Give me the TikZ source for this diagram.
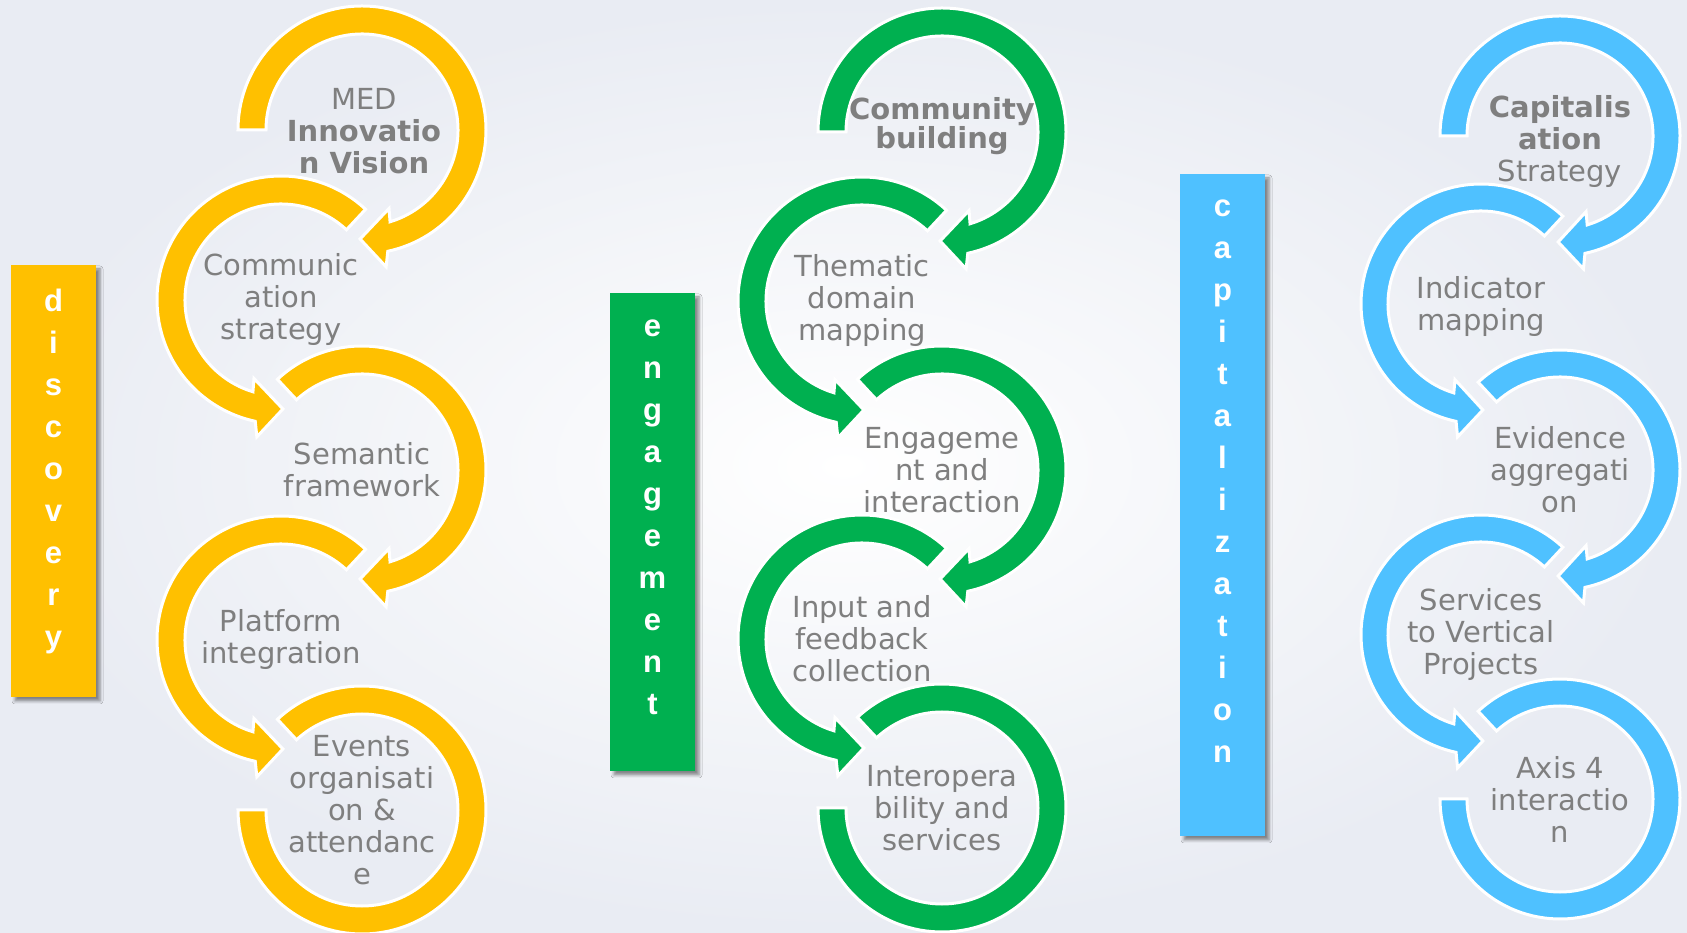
\documentclass[tikz,border=0pt]{standalone}
\usepackage{fontspec}
\setmainfont{DejaVu Sans}
\newfontfamily\barfont{Liberation Sans}
\usetikzlibrary{shadows.blur}

\definecolor{discyellow}{RGB}{255,192,0}
\definecolor{enggreen}{RGB}{0,176,80}
\definecolor{capblue}{RGB}{79,193,255}
\definecolor{labelgray}{RGB}{127,127,127}
\definecolor{bgedge}{RGB}{233,236,243}

\tikzset{
  ring/.style={draw=white, line width=3, line join=miter},
  steptext/.style={text=labelgray, align=center, inner sep=0, font=\fontsize{29}{32}\selectfont},
  phasebar/.style={minimum width=85, minimum height=#1, inner sep=0,
    blur shadow={shadow xshift=4pt, shadow yshift=-4pt, shadow blur radius=3pt, shadow opacity=45}},
  barletters/.style={text=white, align=center, anchor=north, inner sep=0,
    font=\barfont\fontsize{31}{42}\selectfont\bfseries},
}

\begin{document}
\begin{tikzpicture}[x=1pt,y=1pt]
    \useasboundingbox (0,0) rectangle (1687,932);
    \shade[inner color=white, outer color=bgedge] (0,0) rectangle (1687,932);

    % phase bars
    \node[phasebar=432, fill=discyellow] (discovery) at (53.5,451) {};
    \node[barletters] (discword) at ([yshift=-24]discovery.north) {d\\i\\s\\c\\o\\v\\e\\r\\y};

    \node[phasebar=478, fill=enggreen] (engagement) at (652.5,400) {};
    \node[barletters] (engword) at ([yshift=-27]engagement.north) {e\\n\\g\\a\\g\\e\\m\\e\\n\\t};

    \node[phasebar=662, fill=capblue] (capitalization) at (1222.5,427) {};
    \node[barletters] (capword) at ([yshift=-26]capitalization.north) {c\\a\\p\\i\\t\\a\\l\\i\\z\\a\\t\\i\\o\\n};

    % circle centres
    \coordinate (Y1) at (362,802);
    \coordinate (Y2) at (281,632);
    \coordinate (Y3) at (362,462);
    \coordinate (Y4) at (281,292);
    \coordinate (Y5) at (362,122);

    \coordinate (G1) at (942,800);
    \coordinate (G2) at (862,631);
    \coordinate (G3) at (942,462);
    \coordinate (G4) at (862,293);
    \coordinate (G5) at (942,124);

    \coordinate (B1) at (1560,796);
    \coordinate (B2) at (1481,628);
    \coordinate (B3) at (1560,462);
    \coordinate (B4) at (1481,297);
    \coordinate (B5) at (1560,133);

    % discovery circles
    \filldraw[ring, fill=discyellow, shift={(Y1)}] (180:124) arc[start angle=180, end angle=-78, radius=124]
        -- (-80:139) -- (-91:109) -- (-71:83) -- (-73:96) arc[start angle=-73, end angle=180, radius=96] -- cycle;
    \filldraw[ring, fill=discyellow, shift={(Y2)}] (47:124) arc[start angle=47, end angle=258, radius=124]
        -- (260:139) -- (271:109) -- (251:83) -- (253:96) arc[start angle=253, end angle=47, radius=96] -- cycle;
    \filldraw[ring, fill=discyellow, shift={(Y3)}] (133:124) arc[start angle=133, end angle=-78, radius=124]
        -- (-80:139) -- (-91:109) -- (-71:83) -- (-73:96) arc[start angle=-73, end angle=133, radius=96] -- cycle;
    \filldraw[ring, fill=discyellow, shift={(Y4)}] (47:124) arc[start angle=47, end angle=258, radius=124]
        -- (260:139) -- (271:109) -- (251:83) -- (253:96) arc[start angle=253, end angle=47, radius=96] -- cycle;
    \filldraw[ring, fill=discyellow, shift={(Y5)}] (133:124) arc[start angle=133, end angle=-180, radius=124]
        -- (-180:96) arc[start angle=-180, end angle=133, radius=96] -- cycle;

    % engagement circles
    \filldraw[ring, fill=enggreen, shift={(G1)}] (180:124) arc[start angle=180, end angle=-78, radius=124]
        -- (-80:139) -- (-91:109) -- (-71:83) -- (-73:96) arc[start angle=-73, end angle=180, radius=96] -- cycle;
    \filldraw[ring, fill=enggreen, shift={(G2)}] (47:124) arc[start angle=47, end angle=258, radius=124]
        -- (260:139) -- (271:109) -- (251:83) -- (253:96) arc[start angle=253, end angle=47, radius=96] -- cycle;
    \filldraw[ring, fill=enggreen, shift={(G3)}] (133:124) arc[start angle=133, end angle=-78, radius=124]
        -- (-80:139) -- (-91:109) -- (-71:83) -- (-73:96) arc[start angle=-73, end angle=133, radius=96] -- cycle;
    \filldraw[ring, fill=enggreen, shift={(G4)}] (47:124) arc[start angle=47, end angle=258, radius=124]
        -- (260:139) -- (271:109) -- (251:83) -- (253:96) arc[start angle=253, end angle=47, radius=96] -- cycle;
    \filldraw[ring, fill=enggreen, shift={(G5)}] (133:124) arc[start angle=133, end angle=-180, radius=124]
        -- (-180:96) arc[start angle=-180, end angle=133, radius=96] -- cycle;

    % capitalization circles
    \filldraw[ring, fill=capblue, shift={(B1)}] (180:120) arc[start angle=180, end angle=-78, radius=120]
        -- (-80:135) -- (-91:106) -- (-71:80) -- (-73:93) arc[start angle=-73, end angle=180, radius=93] -- cycle;
    \filldraw[ring, fill=capblue, shift={(B2)}] (47:120) arc[start angle=47, end angle=258, radius=120]
        -- (260:135) -- (271:106) -- (251:80) -- (253:93) arc[start angle=253, end angle=47, radius=93] -- cycle;
    \filldraw[ring, fill=capblue, shift={(B3)}] (133:120) arc[start angle=133, end angle=-78, radius=120]
        -- (-80:135) -- (-91:106) -- (-71:80) -- (-73:93) arc[start angle=-73, end angle=133, radius=93] -- cycle;
    \filldraw[ring, fill=capblue, shift={(B4)}] (47:120) arc[start angle=47, end angle=258, radius=120]
        -- (260:135) -- (271:106) -- (251:80) -- (253:93) arc[start angle=253, end angle=47, radius=93] -- cycle;
    \filldraw[ring, fill=capblue, shift={(B5)}] (133:120) arc[start angle=133, end angle=-180, radius=120]
        -- (-180:93) arc[start angle=-180, end angle=133, radius=93] -- cycle;

    % step texts
    \node[steptext, xshift=2, yshift=-1] (vision) at (Y1) {MED\\\textbf{Innovatio}\\\textbf{n Vision}};
    \node[steptext] (commstrat) at (Y2) {Communic\\ation\\strategy};
    \node[steptext] (semantic) at (Y3) {Semantic\\framework};
    \node[steptext] (platform) at (Y4) {Platform\\integration};
    \node[steptext] (events) at (Y5) {Events\\organisati\\on \&\\attendanc\\e};

    \node[steptext, yshift=6, font=\bfseries\fontsize{29}{29}\selectfont] (community) at (G1) {Community\\building};
    \node[steptext] (thematic) at (G2) {Thematic\\domain\\mapping};
    \node[steptext] (interaction) at (G3) {Engageme\\nt and\\interaction};
    \node[steptext] (feedback) at (G4) {Input and\\feedback\\collection};
    \node[steptext] (interop) at (G5) {Interopera\\bility and\\services};

    \node[steptext, yshift=-6] (capstrat) at (B1) {\textbf{Capitalis}\\\textbf{ation}\\Strategy};
    \node[steptext, yshift=-3] (indicator) at (B2) {Indicator\\mapping};
    \node[steptext] (evidence) at (B3) {Evidence\\aggregati\\on};
    \node[steptext] (services) at (B4) {Services\\to Vertical\\Projects};
    \node[steptext] (axis) at (B5) {Axis 4\\interactio\\n};
\end{tikzpicture}
\end{document}
